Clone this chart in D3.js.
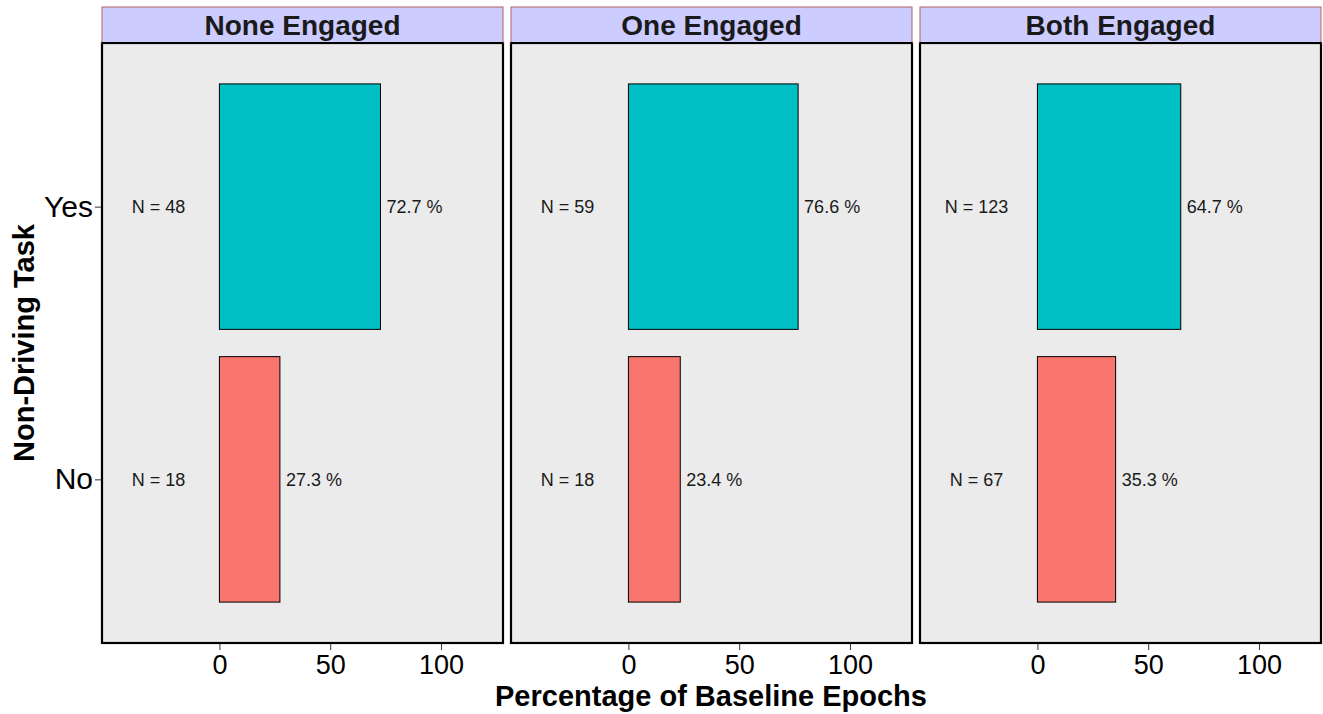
<!DOCTYPE html>
<html><head><meta charset="utf-8">
<script src="https://cdn.jsdelivr.net/npm/d3@7"></script>
<style>body{margin:0;background:#fff;} svg{display:block;font-family:"Liberation Sans",Arial,sans-serif;}</style>
</head><body>
<svg id="c" width="1323" height="714"></svg>
<script>
const panels = ["None Engaged", "One Engaged", "Both Engaged"];
const categories = ["Yes", "No"];
const pctYes = [72.7, 76.6, 64.7];
const pctNo = [27.3, 23.4, 35.3];
const nYes = [48, 59, 123];
const nNo = [18, 18, 67];
const xTicks = [0, 50, 100];
const colors = {Yes: "#00BFC4", No: "#F8766D"};

const svg = d3.select("#c");
const panelW = 401, panelTop = 43, panelBottom = 643, stripTop = 7;
const panelLefts = [102, 511, 920];

const x = d3.scaleLinear().domain([-53, 128]).range([0, panelW]);
// discrete y: expansion of 0.6 units each side, bars 0.9 units wide
const y = d3.scalePoint().domain(categories).range([panelTop, panelBottom]).padding(0.6 / 1.0 * 1);
const unit = (panelBottom - panelTop) / 2.2;
const yc = c => panelTop + (categories.indexOf(c) + 0.6) * unit;
const bw = 0.9 * unit;

panels.forEach((p, i) => {
  const g = svg.append("g").attr("transform", `translate(${panelLefts[i]},0)`);
  g.append("rect").attr("x", 0).attr("y", panelTop).attr("width", panelW).attr("height", panelBottom - panelTop).attr("fill", "#EBEBEB");
  const rows = [
    {cat: "Yes", v: pctYes[i], n: nYes[i]},
    {cat: "No", v: pctNo[i], n: nNo[i]}
  ];
  g.selectAll("rect.bar").data(rows).enter().append("rect").attr("class", "bar")
    .attr("x", x(0)).attr("width", d => x(d.v) - x(0))
    .attr("y", d => yc(d.cat) - bw / 2).attr("height", bw)
    .attr("fill", d => colors[d.cat]).attr("stroke", "#000").attr("stroke-width", 1);
  g.selectAll("text.n").data(rows).enter().append("text")
    .attr("x", x(-27.5)).attr("y", d => yc(d.cat)).attr("dy", "0.35em")
    .attr("text-anchor", "middle").attr("font-size", 18).attr("fill", "#1a1a1a")
    .text(d => "N = " + d.n);
  g.selectAll("text.p").data(rows).enter().append("text")
    .attr("x", d => x(d.v) + 6).attr("y", d => yc(d.cat)).attr("dy", "0.35em")
    .attr("text-anchor", "start").attr("font-size", 18).attr("fill", "#1a1a1a")
    .text(d => d.v.toFixed(1) + " %");
  g.append("rect").attr("x", 0).attr("y", panelTop).attr("width", panelW).attr("height", panelBottom - panelTop)
    .attr("fill", "none").attr("stroke", "#000").attr("stroke-width", 2.2);
  // strip
  g.append("rect").attr("x", 0).attr("y", stripTop).attr("width", panelW).attr("height", panelTop - stripTop)
    .attr("fill", "#CCCCFF").attr("stroke", "#B5606A").attr("stroke-width", 1);
  g.append("line").attr("x1", 0).attr("x2", panelW).attr("y1", panelTop).attr("y2", panelTop).attr("stroke", "#000").attr("stroke-width", 2.2);
  g.append("text").attr("x", panelW / 2).attr("y", (stripTop + panelTop) / 2).attr("dy", "0.36em")
    .attr("text-anchor", "middle").attr("font-size", 28).attr("font-weight", "bold").attr("fill", "#1a1a1a").text(p);
  // x axis
  const ax = g.append("g").attr("transform", `translate(0,${panelBottom + 1})`)
    .call(d3.axisBottom(x).tickValues(xTicks).tickSize(6).tickPadding(5).tickFormat(d3.format("d")));
  ax.select(".domain").remove();
  ax.selectAll(".tick line").attr("stroke", "#333").attr("stroke-width", 1);
  ax.selectAll(".tick text").attr("font-size", 27).attr("fill", "#000").attr("font-family", "Liberation Sans, Arial, sans-serif");
});

// y axis on first panel
const yAxisScale = d3.scalePoint().domain(categories).range([yc("Yes"), yc("No")]);
const ay = svg.append("g").attr("transform", `translate(${panelLefts[0] - 1},0)`)
  .call(d3.axisLeft(yAxisScale).tickSize(6).tickPadding(2));
ay.select(".domain").remove();
ay.selectAll(".tick line").attr("stroke", "#333");
ay.selectAll(".tick text").attr("font-size", 30).attr("fill", "#000").attr("font-family", "Liberation Sans, Arial, sans-serif");

svg.append("text").attr("transform", `translate(34,343) rotate(-90)`)
  .attr("text-anchor", "middle").attr("font-size", 29).attr("font-weight", "bold").attr("fill", "#000")
  .text("Non-Driving Task");
svg.append("text").attr("x", 711).attr("y", 706)
  .attr("text-anchor", "middle").attr("font-size", 29).attr("font-weight", "bold").attr("fill", "#000")
  .text("Percentage of Baseline Epochs");
</script>
</body></html>
